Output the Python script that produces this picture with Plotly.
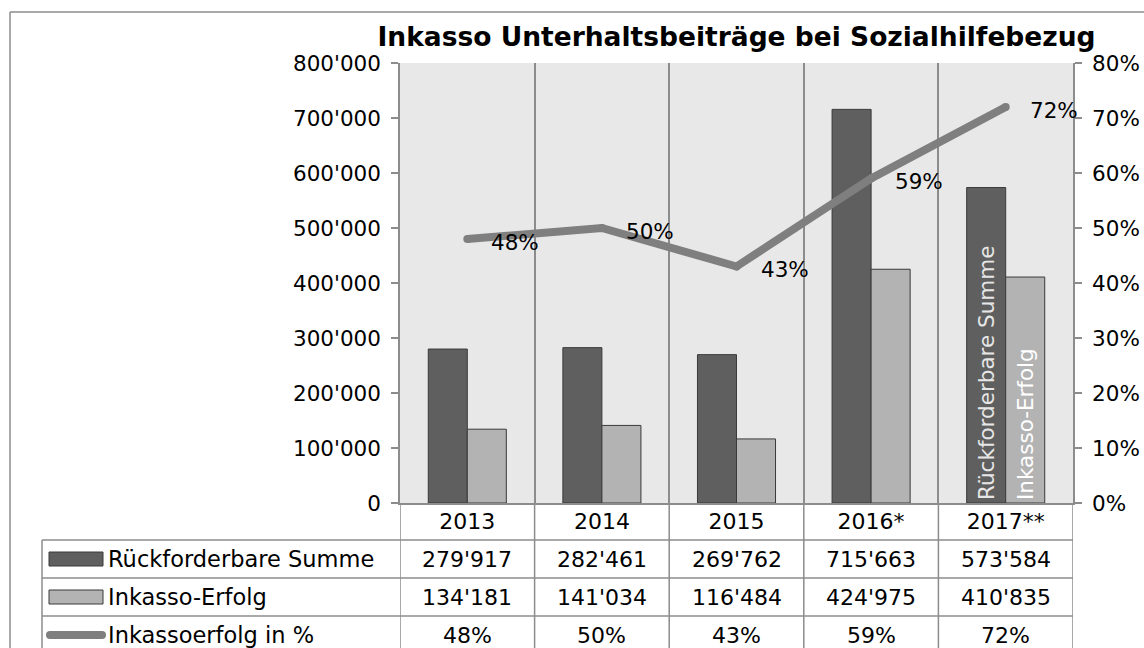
import plotly.graph_objs as go

### Data

years = ['2013', '2014', '2015', '2016*', '2017**']
rueckforderbar = [279917, 282461, 269762, 715663, 573584]
inkasso = [134181, 141034, 116484, 424975, 410835]
erfolg_pct = [0.48, 0.50, 0.43, 0.59, 0.72]

row_names = ['Rückforderbare Summe', 'Inkasso-Erfolg', 'Inkassoerfolg in %']

DARK = '#5f5f5f'
LIGHT = '#b3b3b3'
LINE = '#7f7f7f'
GRID = '#8c8c8c'
FONT = 'DejaVu Sans'

# plot area in pixels (used to place table parts below the chart)
L, R, T, B = 400, 1073, 63, 503
W, H = 1144, 648


def px(x):
    return (x - L) / (R - L)


def py(y):
    return (B - y) / (B - T)


def fmt(v):
    return f"{v:,}".replace(',', "'")


fig = go.Figure()

fig.add_trace(go.Bar(x=years, y=rueckforderbar, name=row_names[0],
                     marker=dict(color=DARK, line=dict(color='#3a3a3a', width=1)),
                     text=['', '', '', '', row_names[0]],
                     textposition='inside', textangle=-90, insidetextanchor='start',
                     insidetextfont=dict(family=FONT, size=21.5, color='#e6e6e6')))
fig.add_trace(go.Bar(x=years, y=inkasso, name=row_names[1],
                     marker=dict(color=LIGHT, line=dict(color='#3a3a3a', width=1)),
                     text=['', '', '', '', row_names[1]],
                     textposition='inside', textangle=-90, insidetextanchor='start',
                     insidetextfont=dict(family=FONT, size=21.5, color='white')))
fig.add_trace(go.Scatter(x=years, y=erfolg_pct, name=row_names[2], yaxis='y2',
                         mode='lines+markers', line=dict(color=LINE, width=8),
                         marker=dict(color=LINE, size=8)))

# line value labels (category index positions)
for i, q in enumerate(erfolg_pct):
    fig.add_annotation(x=i, y=q, xref='x', yref='y2', text=f"{round(q * 100)}%",
                       showarrow=False, xanchor='left', xshift=22, yshift=-3,
                       font=dict(family=FONT, size=21.5, color='black'))

### Table below the chart

rows_top = [540, 578, 616, 654]
table_values = [[fmt(v) for v in rueckforderbar],
                [fmt(v) for v in inkasso],
                [f"{round(q * 100)}%" for q in erfolg_pct]]

shapes = []
lw = 1.5
# horizontal lines
for y in rows_top:
    shapes.append(dict(type='line', xref='paper', yref='paper', x0=px(42), x1=1,
                       y0=py(y), y1=py(y), line=dict(color=GRID, width=lw)))
# vertical column lines at category boundaries
for i in range(len(years) + 1):
    shapes.append(dict(type='line', xref='x', yref='paper', x0=i - 0.5, x1=i - 0.5,
                       y0=0, y1=py(660), line=dict(color=GRID, width=lw)))
shapes.append(dict(type='line', xref='paper', yref='paper', x0=px(42), x1=px(42),
                   y0=py(540), y1=py(660), line=dict(color=GRID, width=lw)))
# outer frame
shapes.append(dict(type='line', xref='paper', yref='paper', x0=px(10), x1=px(10),
                   y0=py(12), y1=py(660), line=dict(color=GRID, width=lw)))
shapes.append(dict(type='line', xref='paper', yref='paper', x0=px(10), x1=px(1150),
                   y0=py(12), y1=py(12), line=dict(color=GRID, width=lw)))

# legend keys
shapes.append(dict(type='rect', xref='paper', yref='paper', x0=px(49), x1=px(103),
                   y0=py(566), y1=py(552), fillcolor=DARK, line=dict(color='#3a3a3a', width=1)))
shapes.append(dict(type='rect', xref='paper', yref='paper', x0=px(49), x1=px(103),
                   y0=py(604), y1=py(590), fillcolor=LIGHT, line=dict(color='#3a3a3a', width=1)))
shapes.append(dict(type='line', xref='paper', yref='paper', x0=px(50), x1=px(102),
                   y0=py(635), y1=py(635), line=dict(color=LINE, width=8)))
for cx in (50, 102):
    shapes.append(dict(type='circle', xref='paper', yref='paper', x0=px(cx - 4), x1=px(cx + 4),
                       y0=py(639), y1=py(631), fillcolor=LINE, line=dict(width=0)))

for r, (name, vals) in enumerate(zip(row_names, table_values)):
    yc = py((rows_top[r] + rows_top[r + 1]) / 2)
    fig.add_annotation(x=px(106), y=yc, xref='paper', yref='paper', text=name,
                       showarrow=False, xanchor='left', yanchor='middle',
                       font=dict(family=FONT, size=22.5, color='black'))
    for i, v in enumerate(vals):
        fig.add_annotation(x=i, y=yc, xref='x', yref='paper', text=v,
                           showarrow=False, xanchor='center', yanchor='middle',
                           font=dict(family=FONT, size=22, color='black'))

fig.update_layout(
    width=W, height=H,
    margin=dict(l=L, r=W - R, t=T, b=H - B, pad=0),
    paper_bgcolor='white', plot_bgcolor='#e8e8e8',
    separators=".'",
    showlegend=False,
    barmode='group', bargap=0.42, bargroupgap=0,
    font=dict(family=FONT, size=21.5, color='black'),
    title=dict(text='Inkasso Unterhaltsbeiträge bei Sozialhilfebezug',
               x=0.5, xref='paper', xanchor='center',
               y=1 - 37 / H, yref='container', yanchor='middle',
               font=dict(family=FONT, size=26.5, color='black', weight='bold')),
    xaxis=dict(type='category', categoryarray=years, range=[-0.5, len(years) - 0.5],
               tickson='boundaries', showgrid=True, gridcolor=GRID,
               gridwidth=lw, ticks='', showline=True, linecolor=GRID, linewidth=lw,
               tickfont=dict(family=FONT, size=22), ticklabelstandoff=-2,
               automargin=False),
    yaxis=dict(range=[0, 800000], dtick=100000, tickformat=',d', showgrid=False,
               zeroline=False, showline=True, linecolor=GRID, linewidth=lw,
               ticks='outside', ticklen=7, tickcolor=GRID, tickwidth=lw,
               ticklabelstandoff=6, automargin=False),
    yaxis2=dict(range=[0, 0.8], dtick=0.1, tickformat='.0%', overlaying='y', side='right',
                showgrid=False, zeroline=False, showline=True, linecolor=GRID, linewidth=lw,
                ticks='outside', ticklen=7, tickcolor=GRID, tickwidth=lw,
                ticklabelstandoff=6, automargin=False),
    shapes=shapes,
)

fig.write_html("out.html", config={'displayModeBar': False},
               post_script="document.body.style.margin='0';")
